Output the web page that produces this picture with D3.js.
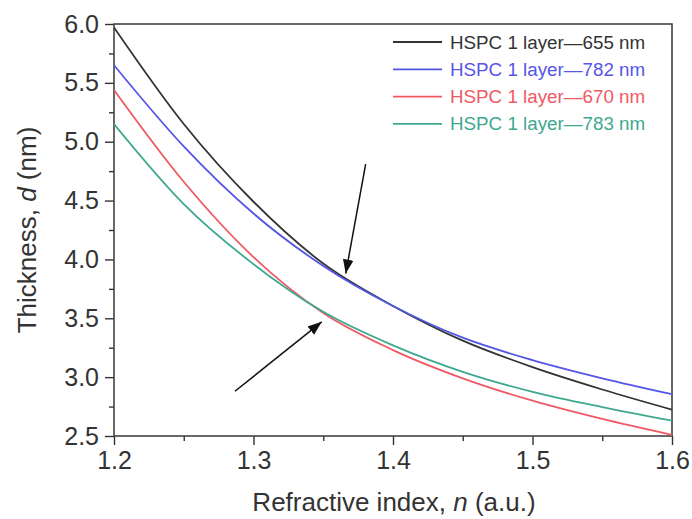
<!DOCTYPE html>
<html>
<head>
<meta charset="utf-8">
<script src="https://cdn.jsdelivr.net/npm/d3@7"></script>
<style>
  html, body { margin: 0; padding: 0; background: #fff; }
  svg { display: block; }
  text { font-family: "Liberation Sans", Arial, Helvetica, sans-serif; }
</style>
</head>
<body>
<svg id="chart" width="692" height="519"></svg>
<script>
// ---- data ----
const refractiveIndex = [1.2, 1.25, 1.3, 1.35, 1.4, 1.45, 1.5, 1.55, 1.6];
const thickness655 = [5.97, 5.15, 4.49, 3.965, 3.605, 3.31, 3.085, 2.895, 2.724];
const thickness782 = [5.65, 4.96, 4.39, 3.945, 3.605, 3.335, 3.145, 2.99, 2.855];
const thickness670 = [5.44, 4.66, 4.02, 3.545, 3.23, 2.99, 2.80, 2.645, 2.51];
const thickness783 = [5.15, 4.47, 3.96, 3.555, 3.27, 3.045, 2.875, 2.745, 2.63];
const seriesNames = ["HSPC 1 layer\u2014655 nm", "HSPC 1 layer\u2014782 nm", "HSPC 1 layer\u2014670 nm", "HSPC 1 layer\u2014783 nm"];
const seriesColors = ["#333333", "#5555e8", "#ee5a64", "#3fa890"];
const xTicks = [1.2, 1.3, 1.4, 1.5, 1.6];
const yTicks = [2.5, 3.0, 3.5, 4.0, 4.5, 5.0, 5.5, 6.0];
// arrows (data units): [n0, d0, n1, d1]
const arrows = [[1.3804, 4.81, 1.3661, 3.88], [1.2867, 2.88, 1.3489, 3.47]];

const seriesValues = [thickness655, thickness782, thickness670, thickness783];

const svg = d3.select("#chart");
const W = 692, H = 519;
const m = { left: 114, right: 20, top: 24, bottom: 83 };

const x = d3.scaleLinear().domain([1.2, 1.6]).range([m.left, W - m.right]);
const y = d3.scaleLinear().domain([2.5, 6.0]).range([H - m.bottom, m.top]);

svg.append("rect").attr("width", W).attr("height", H).attr("fill", "#fff");

const defs = svg.append("defs");
defs.append("marker")
  .attr("id", "arrowhead")
  .attr("viewBox", "0 0 10 10")
  .attr("refX", 10).attr("refY", 5)
  .attr("markerWidth", 14).attr("markerHeight", 14)
  .attr("markerUnits", "userSpaceOnUse")
  .attr("orient", "auto")
  .append("path").attr("d", "M0,1.2 L10,5 L0,8.8 Z").attr("fill", "#111");

defs.append("clipPath").attr("id", "plotclip")
  .append("rect").attr("x", m.left).attr("y", m.top)
  .attr("width", W - m.right - m.left).attr("height", H - m.bottom - m.top);

// minor ticks
const xMinor = d3.range(1.25, 1.6, 0.1);
const yMinor = d3.range(2.75, 6.0, 0.5);

svg.append("g").attr("transform", `translate(0,${H - m.bottom})`)
  .call(d3.axisBottom(x).tickValues(xTicks).tickFormat(d3.format(".1f")).tickSize(9).tickPadding(6));
svg.append("g").attr("transform", `translate(0,${H - m.bottom})`)
  .call(d3.axisBottom(x).tickValues(xMinor).tickFormat("").tickSize(5));

svg.append("g").attr("transform", `translate(${m.left},0)`)
  .call(d3.axisLeft(y).tickValues(yTicks).tickFormat(d3.format(".1f")).tickSize(9).tickPadding(6));
svg.append("g").attr("transform", `translate(${m.left},0)`)
  .call(d3.axisLeft(y).tickValues(yMinor).tickFormat("").tickSize(5));

svg.selectAll(".domain").remove();
svg.selectAll(".tick line").attr("stroke", "#333").attr("stroke-width", 1.4);
svg.selectAll(".tick text").attr("font-size", 25).attr("fill", "#333")
  .attr("font-family", "'Liberation Sans', Arial, sans-serif");

// frame
svg.append("rect")
  .attr("x", m.left).attr("y", m.top)
  .attr("width", W - m.right - m.left).attr("height", H - m.bottom - m.top)
  .attr("fill", "none").attr("stroke", "#444").attr("stroke-width", 1.6);

// lines
const line = d3.line().curve(d3.curveMonotoneX)
  .x((d, i) => x(refractiveIndex[i])).y(d => y(d));
const plot = svg.append("g").attr("clip-path", "url(#plotclip)");
seriesValues.forEach((vals, k) => {
  plot.append("path").datum(vals)
    .attr("d", line).attr("fill", "none")
    .attr("stroke", seriesColors[k]).attr("stroke-width", 1.8);
});

// arrows
arrows.forEach(a => {
  svg.append("line")
    .attr("x1", x(a[0])).attr("y1", y(a[1]))
    .attr("x2", x(a[2])).attr("y2", y(a[3]))
    .attr("stroke", "#111").attr("stroke-width", 1.5)
    .attr("marker-end", "url(#arrowhead)");
});

// legend
const lg = svg.append("g");
seriesNames.forEach((name, k) => {
  const ly = 42 + k * 27.3;
  lg.append("line").attr("x1", 393).attr("x2", 442).attr("y1", ly).attr("y2", ly)
    .attr("stroke", seriesColors[k]).attr("stroke-width", 1.8);
  lg.append("text").attr("x", 450).attr("y", ly + 6.5)
    .attr("font-size", 18.8).attr("fill", seriesColors[k]).text(name);
});

// axis titles
const xt = svg.append("text").attr("x", (m.left + W - m.right) / 2 + 1).attr("y", 511)
  .attr("text-anchor", "middle").attr("font-size", 26).attr("fill", "#333");
xt.append("tspan").text("Refractive index, ");
xt.append("tspan").attr("font-style", "italic").text("n");
xt.append("tspan").text(" (a.u.)");

const yt = svg.append("text")
  .attr("transform", `translate(36,${(m.top + H - m.bottom) / 2}) rotate(-90)`)
  .attr("text-anchor", "middle").attr("font-size", 26).attr("fill", "#333");
yt.append("tspan").text("Thickness, ");
yt.append("tspan").attr("font-style", "italic").text("d");
yt.append("tspan").text(" (nm)");
</script>
</body>
</html>
